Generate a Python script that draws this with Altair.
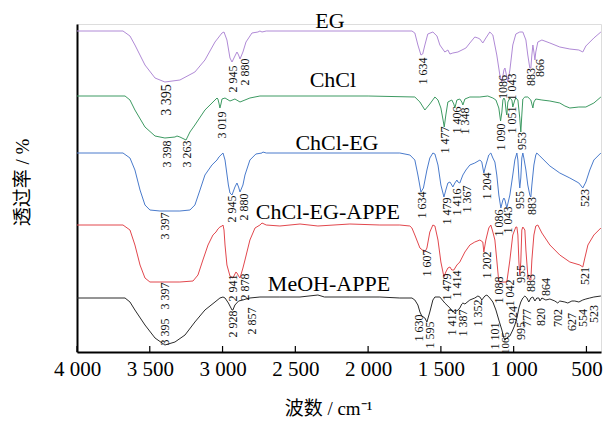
import altair as alt
import pandas as pd

# ---- series (wavenumber cm-1, trace reading: larger = lower on chart) ----
series_names = ["EG", "ChCl", "ChCl-EG", "ChCl-EG-APPE", "MeOH-APPE"]
series_colors = ["#b08ad6", "#3d9a62", "#4a7bcc", "#e2474d", "#2b2b2b"]

eg = [(4000,31),(3684,31),(3636,36),(3602,45),(3533,65),(3464,78),(3396,82),(3293,80),(3190,72),(3121,60),
      (3052,42),(3004,33),(2990,32),(2970,40),(2949,58),(2935,62),(2915,56),(2901,52),(2890,55),(2880,59),
      (2860,52),(2839,42),(2798,33),(2757,32),(2743,31),(2729,32),(2700,31),(1699,31),(1679,33),(1658,45),
      (1637,55),(1625,54),(1610,45),(1590,34),(1555,32),(1527,36),(1507,45),(1473,52),(1452,50),(1438,54),
      (1418,53),(1383,52),(1328,48),(1301,43),(1267,37),(1246,38),(1232,39),(1212,43),(1191,38),(1164,32),
      (1143,35),(1116,55),(1095,75),(1081,82),(1067,70),(1060,68),(1054,72),(1040,82),(1026,70),(1006,45),
      (985,34),(958,32),(937,32),(916,40),(903,55),(889,68),(882,68),(875,55),(868,45),(861,52),
      (854,60),(848,52),(834,42),(806,40),(751,43),(683,47),(614,49),(552,50),(525,52),(504,46),
      (449,38),(401,32)]

chcl = [(4000,96),(3670,96),(3636,100),(3602,110),(3533,127),(3464,136),(3396,138),(3327,137),(3313,136),(3293,137),
        (3251,140),(3224,132),(3190,125),(3121,110),(3052,100),(3038,98),(3032,99),(3025,103),(3018,108),(3011,104),
        (3004,99),(2983,98),(2949,101),(2915,99),(2880,102),(2846,100),(2812,98),(2743,96),(2000,96),(1679,97),
        (1644,102),(1610,110),(1576,104),(1541,97),(1520,100),(1500,108),(1485,120),(1477,127),(1466,115),(1452,102),
        (1425,100),(1411,104),(1404,108),(1390,100),(1370,99),(1356,102),(1349,105),(1335,99),(1301,97),(1232,97),
        (1178,96),(1143,98),(1122,100),(1102,108),(1090,121),(1081,112),(1074,100),(1067,98),(1060,100),(1051,112),
        (1047,115),(1040,102),(1026,98),(1012,100),(1006,107),(992,100),(985,98),(971,100),(958,118),(951,132),
        (944,115),(937,99),(923,97),(903,97),(882,100),(875,104),(868,108),(861,102),(848,99),(806,100),
        (751,101),(683,103),(648,106),(614,108),(552,107),(504,107),(449,103),(401,97)]

chcl_eg = [(4000,153),(3684,153),(3636,158),(3602,170),(3567,190),(3533,205),(3499,210),(3430,211),(3293,211),(3224,210),
           (3190,205),(3155,190),(3121,175),(3073,165),(3038,160),(3025,157),(3011,155),(2997,153),(2983,160),(2960,185),
           (2949,193),(2935,195),(2915,187),(2901,183),(2890,187),(2880,192),(2860,185),(2846,175),(2812,160),(2771,154),
           (2729,153),(2723,152),(2700,153),(1782,153),(1713,155),(1679,160),(1658,175),(1637,192),(1620,188),(1596,170),
           (1576,158),(1555,153),(1541,154),(1520,165),(1500,185),(1479,197),(1466,190),(1452,183),(1438,182),(1425,185),
           (1418,187),(1404,183),(1390,180),(1383,182),(1370,183),(1349,175),(1328,170),(1301,165),(1267,163),(1232,160),
           (1219,162),(1205,173),(1191,165),(1171,155),(1157,153),(1143,158),(1129,162),(1116,175),(1102,195),(1088,208),
           (1074,200),(1067,198),(1060,200),(1047,208),(1026,195),(1006,175),(992,160),(978,153),(971,160),(964,178),
           (958,188),(951,178),(944,158),(937,153),(930,158),(916,170),(903,185),(889,195),(882,197),(875,185),
           (861,165),(848,155),(841,153),(820,156),(751,166),(683,173),(614,178),(552,183),(525,188),(504,182),
           (477,170),(449,160),(401,153)]

chcl_eg_appe = [(4000,225),(3684,225),(3636,230),(3602,245),(3567,265),(3533,278),(3499,282),(3430,282),(3293,282),(3203,281),
                (3169,275),(3135,260),(3100,245),(3066,235),(3045,232),(3032,229),(3018,227),(3004,226),(2997,225),(2990,230),
                (2983,245),(2970,265),(2949,276),(2929,278),(2915,274),(2908,272),(2901,273),(2890,276),(2880,278),(2860,268),
                (2846,260),(2812,240),(2777,228),(2743,225),(2729,223),(2700,225),(2606,226),(2468,224),(2345,226),(2125,224),
                (1919,225),(1782,225),(1713,226),(1699,228),(1679,235),(1644,248),(1610,252),(1596,248),(1576,232),(1555,225),
                (1541,226),(1520,240),(1500,262),(1479,277),(1466,272),(1452,268),(1438,267),(1425,270),(1411,270),(1390,265),
                (1370,262),(1335,252),(1301,245),(1267,242),(1232,240),(1212,242),(1205,252),(1191,240),(1171,228),(1157,225),
                (1143,232),(1129,240),(1116,260),(1102,282),(1088,282),(1060,282),(1047,282),(1026,260),(1006,235),(985,227),
                (978,227),(971,235),(964,262),(958,275),(951,262),(944,230),(937,227),(923,230),(916,250),(903,275),
                (889,280),(882,280),(875,260),(861,235),(848,226),(834,225),(806,233),(751,245),(683,255),(614,262),
                (545,265),(525,267),(511,258),(490,245),(449,235),(401,228)]

meoh_appe = [(4000,298),(3670,298),(3636,302),(3602,310),(3533,325),(3464,338),(3396,345),(3327,342),(3258,335),(3190,322),
             (3121,310),(3052,302),(3018,298),(2997,297),(2983,298),(2960,303),(2935,310),(2929,310),(2915,305),(2890,301),
             (2860,300),(2839,299),(2812,298),(2743,297),(2606,297),(2468,297),(2345,295),(2300,297),(2125,297),(1919,297),
             (1782,298),(1699,298),(1679,300),(1658,305),(1644,312),(1631,316),(1610,318),(1596,322),(1576,312),(1555,300),
             (1541,297),(1527,297),(1507,297),(1473,303),(1438,308),(1418,312),(1404,310),(1390,311),(1370,308),(1356,304),
             (1349,303),(1335,304),(1301,300),(1267,298),(1246,296),(1232,297),(1219,300),(1198,296),(1184,295),(1164,298),
             (1143,302),(1122,310),(1102,320),(1081,330),(1067,338),(1060,340),(1047,338),(1026,336),(1006,330),(992,325),
             (978,318),(964,308),(951,302),(937,298),(923,296),(909,298),(896,302),(882,298),(868,297),(854,301),
             (841,298),(827,298),(820,301),(806,298),(779,300),(751,299),(717,301),(697,303),(683,301),(648,302),
             (628,303),(600,301),(580,301),(552,302),(525,300),(504,299),(477,298),(449,297),(401,296)]

# ---- peak labels: (text, wavenumber position, vertical reading, size) ----
peak_labels = [
    ("3 395", 3382, 100, 14), ("2 945", 2929, 79, 12), ("2 880", 2846, 72, 12), ("1 634", 1624, 71, 12),
    ("1086", 1074, 87, 12), ("1 043", 1012, 87, 12), ("883", 882, 77, 12), ("866", 820, 68, 12),
    ("3 398", 3382, 154, 12), ("3 263", 3245, 154, 12), ("3 019", 3004, 125, 12), ("1 477", 1473, 140, 12),
    ("1 406", 1390, 120, 12), ("1 348", 1335, 121, 12), ("1 090", 1088, 137, 12), ("1 051", 1012, 120, 12),
    ("953", 944, 141, 12),
    ("3 397", 3396, 226, 12), ("2 945", 2935, 209, 12), ("2 880", 2853, 207, 12), ("1 634", 1631, 205, 12),
    ("1 479", 1459, 211, 12), ("1 416", 1390, 202, 12), ("1 367", 1322, 199, 12), ("1 204", 1184, 186, 12),
    ("1 086", 1102, 223, 12), ("1 043", 1040, 220, 12), ("955", 958, 200, 12), ("883", 875, 206, 12),
    ("523", 511, 198, 12),
    ("3 397", 3396, 296, 12), ("2 941", 2929, 288, 12), ("2 878", 2846, 287, 12), ("1 607", 1596, 263, 12),
    ("1 479", 1459, 287, 12), ("1 414", 1390, 284, 12), ("1 202", 1184, 265, 12), ("1 088", 1102, 290, 12),
    ("1 042", 1026, 293, 12), ("955", 951, 274, 12), ("883", 882, 283, 12), ("521", 511, 276, 12),
    ("3 395", 3396, 332, 12), ("2 928", 2929, 324, 12), ("2 857", 2798, 321, 12), ("1 630", 1651, 328, 12),
    ("1 595", 1576, 335, 12), ("1 412", 1425, 322, 12), ("1 387", 1349, 323, 12), ("1 352", 1246, 313, 12),
    ("1 101", 1129, 336, 12), ("1065", 1054, 343, 11), ("924", 1006, 315, 12), ("995", 951, 331, 12),
    ("777", 909, 318, 12), ("820", 813, 317, 12), ("864", 779, 287, 12), ("702", 697, 318, 12),
    ("627", 600, 322, 12), ("554", 525, 318, 12), ("523", 449, 314, 12),
]

# ---- series name labels: (name, wavenumber position, vertical reading) ----
name_labels = [("EG", 2262, 21), ("ChCl", 2242, 80), ("ChCl-EG", 2214, 143),
               ("ChCl-EG-APPE", 2276, 212), ("MeOH-APPE", 2269, 284)]

x_ticks = [4000, 3500, 3000, 2500, 2000, 1500, 1000, 500]

# ---- tables ----
rows = []
for name, pts in zip(series_names, [eg, chcl, chcl_eg, chcl_eg_appe, meoh_appe]):
    for w, v in pts:
        rows.append({"series": name, "wn": w, "val": v})
traces = pd.DataFrame(rows)
peaks = pd.DataFrame(peak_labels, columns=["text", "wn", "val", "size"])
names = pd.DataFrame(name_labels, columns=["text", "wn", "val"])
ticks = pd.DataFrame({"wn": x_ticks})

W, H = 524, 328
serif = "Liberation Serif, 'Noto Sans CJK SC'"

xs = alt.Scale(domain=[400, 4000], reverse=True, nice=False, zero=False)
ys = alt.Scale(domain=[24, 352], reverse=True, nice=False, zero=False)

x_axis = alt.Axis(values=x_ticks, title="波数 / cm⁻¹", ticks=False, grid=False,
                  labelExpr="replace(format(datum.value, ','), ',', ' ')",
                  labelFont=serif, labelFontSize=21, labelColor="#000", labelPadding=6,
                  labelFlush=False, labelOverlap=False,
                  domainColor="#000", domainWidth=2,
                  titleFont=serif, titleFontSize=19, titleFontWeight="normal", titleColor="#000",
                  titleX=251, titleY=56, titleBaseline="middle", titleAlign="center")
y_axis = alt.Axis(title="透过率 / %", labels=False, ticks=False, grid=False,
                  domainColor="#000", domainWidth=2,
                  titleFont=serif, titleFontSize=19, titleFontWeight="normal", titleColor="#000",
                  titleAngle=-90, titleX=-55, titleY=158, titleBaseline="middle", titleAlign="center")

lines = alt.Chart(traces).mark_line(strokeWidth=1, clip=True).encode(
    x=alt.X("wn:Q", scale=xs, axis=x_axis),
    y=alt.Y("val:Q", scale=ys, axis=y_axis),
    color=alt.Color("series:N", scale=alt.Scale(domain=series_names, range=series_colors), legend=None),
    detail="series:N",
    order="wn:Q",
)

tick_marks = alt.Chart(ticks).mark_rule(color="#000", strokeWidth=1.2).encode(
    x=alt.X("wn:Q", scale=xs),
    y=alt.value(H),
    y2=alt.value(H - 6),
)

peak_text = alt.Chart(peaks).mark_text(angle=270, font=serif, color="#111", align="center",
                                       baseline="middle").encode(
    x=alt.X("wn:Q", scale=xs),
    y=alt.Y("val:Q", scale=ys),
    text="text:N",
    size=alt.Size("size:Q", scale=None, legend=None),
)

name_text = alt.Chart(names).mark_text(font=serif, fontSize=22, color="#000", align="center",
                                       baseline="middle").encode(
    x=alt.X("wn:Q", scale=xs),
    y=alt.Y("val:Q", scale=ys),
    text="text:N",
)

chart = alt.layer(lines, tick_marks, peak_text, name_text).properties(
    width=W, height=H,
    padding={"left": 77, "top": 24, "right": 2, "bottom": 70},
    autosize=alt.AutoSizeParams(type="none"),
).configure_view(stroke=None).configure(background="white")

chart.save("out.html", embed_options={"renderer": "svg", "actions": False})
